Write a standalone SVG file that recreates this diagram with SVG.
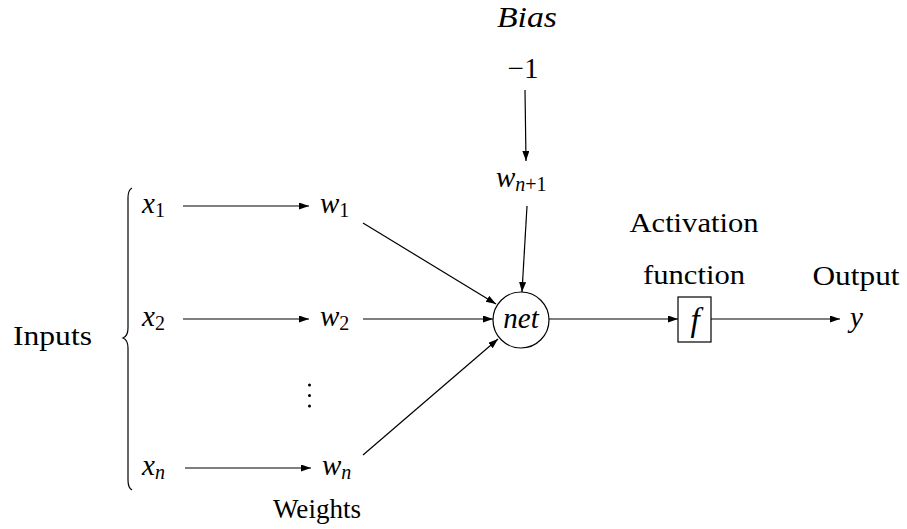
<svg xmlns="http://www.w3.org/2000/svg" width="907" height="529" viewBox="0 0 907 529">
<style>
.e{stroke:#000;stroke-width:1.2;fill:none;marker-end:url(#a)}
.l{stroke:#000;stroke-width:1.2;fill:none}
</style>
<defs>
<marker id="a" markerUnits="userSpaceOnUse" markerWidth="11" markerHeight="8" refX="10" refY="3.5" orient="auto">
<path d="M0,0 L10,3.5 L0,7 z" fill="#000"/>
</marker>
</defs>
<rect width="907" height="529" fill="#fff"/>
<g id="connectors">
<line class="e" x1="183" y1="206" x2="309" y2="206"/>
<line class="e" x1="183" y1="319" x2="309" y2="319"/>
<line class="e" x1="185" y1="468" x2="311" y2="468"/>
<line class="e" x1="363" y1="223" x2="496" y2="304"/>
<line class="e" x1="363" y1="319" x2="493" y2="319"/>
<line class="e" x1="363" y1="455" x2="498" y2="339"/>
<line class="e" x1="525" y1="90" x2="526" y2="161"/>
<line class="e" x1="527" y1="206" x2="522" y2="292"/>
<line class="e" x1="549" y1="319" x2="678" y2="319"/>
<line class="e" x1="711" y1="319" x2="840" y2="319"/>
</g>
<g id="brace">
<path class="l" d="M132,188 Q128,190 128,198 L128,328 Q128,336 123,338 Q128,340 128,348 L128,480 Q128,488 132,490"/>
</g>
<g id="inputs-label"><text font-family="Liberation Serif" font-size="28" x="13" y="345" textLength="79" lengthAdjust="spacingAndGlyphs">Inputs</text></g>
<g id="x1"><text font-family="Liberation Serif" font-size="29" font-style="italic" x="142" y="213">x<tspan font-style="normal" font-size="20" dy="4">1</tspan></text></g>
<g id="x2"><text font-family="Liberation Serif" font-size="29" font-style="italic" x="142" y="326">x<tspan font-style="normal" font-size="20" dy="4">2</tspan></text></g>
<g id="xn"><text font-family="Liberation Serif" font-size="29" font-style="italic" x="142" y="475">x<tspan font-size="20" dy="4">n</tspan></text></g>
<g id="w1"><text font-family="Liberation Serif" font-size="29" font-style="italic" x="320" y="213">w<tspan font-style="normal" font-size="20" dy="4">1</tspan></text></g>
<g id="w2"><text font-family="Liberation Serif" font-size="29" font-style="italic" x="320" y="326">w<tspan font-style="normal" font-size="20" dy="4">2</tspan></text></g>
<g id="wn"><text font-family="Liberation Serif" font-size="29" font-style="italic" x="322" y="475">w<tspan font-size="20" dy="4">n</tspan></text></g>
<g id="dots">
<circle cx="309.5" cy="385" r="1.5" fill="#000"/>
<circle cx="309.5" cy="395.5" r="1.5" fill="#000"/>
<circle cx="309.5" cy="406" r="1.5" fill="#000"/>
</g>
<g id="weights-label"><text font-family="Liberation Serif" font-size="28" x="317" y="518" text-anchor="middle" textLength="88" lengthAdjust="spacingAndGlyphs">Weights</text></g>
<g id="bias-label"><text font-family="Liberation Serif" font-size="29" font-style="italic" x="527" y="27" text-anchor="middle" textLength="60" lengthAdjust="spacingAndGlyphs">Bias</text></g>
<g id="minus-one"><text font-family="Liberation Serif" font-size="29" x="523" y="78" text-anchor="middle">−1</text></g>
<g id="wn1"><text font-family="Liberation Serif" font-size="29" font-style="italic" x="496" y="187">w<tspan font-size="20" dy="4">n</tspan><tspan font-style="normal" font-size="20">+1</tspan></text></g>
<g id="net">
<circle cx="521" cy="320" r="28" fill="none" stroke="#000" stroke-width="1.2"/>
<text font-family="Liberation Serif" font-size="29" font-style="italic" x="521" y="328" text-anchor="middle">net</text>
</g>
<g id="activation-label">
<text font-family="Liberation Serif" font-size="28" x="694" y="232" text-anchor="middle" textLength="129" lengthAdjust="spacingAndGlyphs">Activation</text>
<text font-family="Liberation Serif" font-size="28" x="694" y="284" text-anchor="middle" textLength="102" lengthAdjust="spacingAndGlyphs">function</text>
</g>
<g id="f">
<rect x="678" y="297" width="33" height="45" fill="none" stroke="#000" stroke-width="1.2"/>
<text font-family="Liberation Serif" font-size="33" font-style="italic" x="695" y="331" text-anchor="middle">f</text>
</g>
<g id="output-label"><text font-family="Liberation Serif" font-size="28" x="856" y="285" text-anchor="middle" textLength="87" lengthAdjust="spacingAndGlyphs">Output</text></g>
<g id="y"><text font-family="Liberation Serif" font-size="29" font-style="italic" x="850" y="327">y</text></g>
</svg>
